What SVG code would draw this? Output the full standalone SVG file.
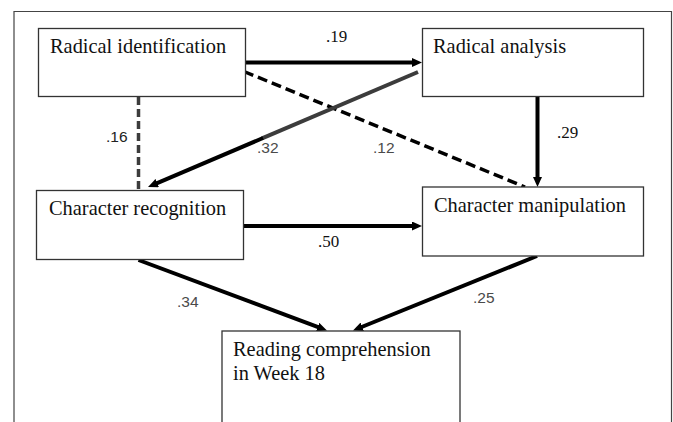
<svg xmlns="http://www.w3.org/2000/svg" width="673" height="422" viewBox="0 0 673 422">
  <style>
    .box { fill: #ffffff; stroke: #333333; stroke-width: 1.3; }
    .t { font-family: "Liberation Serif", "Times New Roman", serif; font-size: 20.4px; fill: #111111; }
    .ls { font-family: "Liberation Serif", "Times New Roman", serif; font-size: 17px; fill: #111111; }
    .lg { font-family: "Liberation Sans", Arial, sans-serif; font-size: 15.5px; fill: #4a4a4a; }
    .edge { fill: none; stroke: #000000; stroke-width: 4; }
    .gray { stroke: #3c3c3c; }
    .dash1 { stroke-dasharray: 8 4; stroke-width: 3.5; stroke: #3c3c3c; }
    .dash2 { stroke-dasharray: 10 5; stroke-width: 3.5; }
  </style>
  <defs>
    <marker id="ah" markerUnits="userSpaceOnUse" markerWidth="10" markerHeight="9" refX="2" refY="4.5" orient="auto">
      <path d="M0,0 L10,4.5 L0,9 z" fill="#000000"/>
    </marker>
  </defs>
  <path d="M14,422 V11.5 H671.5 V422" fill="none" stroke="#444444" stroke-width="1.2"/>

  <g id="edges">
    <line class="edge" x1="246" y1="62.5" x2="414" y2="62.5" marker-end="url(#ah)"/>
    <line class="edge dash1" x1="138.5" y1="97" x2="138.5" y2="190"/>
    <line class="edge dash2" x1="244" y1="71.5" x2="525" y2="187"/>
    <line class="edge gray" x1="418" y1="72" x2="262" y2="138.4"/>
    <line class="edge" x1="263" y1="138" x2="155.4" y2="183.9" marker-end="url(#ah)"/>
    <line class="edge" x1="537.5" y1="97" x2="537.5" y2="179" marker-end="url(#ah)"/>
    <line class="edge" x1="244" y1="226" x2="414" y2="226" marker-end="url(#ah)"/>
    <line class="edge" x1="138.5" y1="260" x2="319.5" y2="327.7" marker-end="url(#ah)"/>
    <line class="edge" x1="537" y1="256" x2="360.4" y2="327.5" marker-end="url(#ah)"/>
  </g>

  <g id="labels">
    <text class="ls" x="326" y="42">.19</text>
    <text class="lg" x="106" y="142" style="fill:#222222">.16</text>
    <text class="lg" x="257" y="153">.32</text>
    <text class="lg" x="373" y="153">.12</text>
    <text class="ls" x="557" y="138">.29</text>
    <text class="ls" x="318" y="247">.50</text>
    <text class="lg" x="177" y="307">.34</text>
    <text class="lg" x="473" y="303">.25</text>
  </g>

  <g id="radical-identification">
    <rect class="box" x="38.5" y="28.5" width="207" height="68"/>
    <text class="t" x="50" y="53">Radical identification</text>
  </g>
  <g id="radical-analysis">
    <rect class="box" x="422.5" y="28.5" width="221" height="68"/>
    <text class="t" x="433" y="53">Radical analysis</text>
  </g>
  <g id="character-recognition">
    <rect class="box" x="36.5" y="190.5" width="207" height="69"/>
    <text class="t" x="49" y="215">Character recognition</text>
  </g>
  <g id="character-manipulation">
    <rect class="box" x="422.5" y="187" width="221" height="69"/>
    <text class="t" x="434" y="212">Character manipulation</text>
  </g>
  <g id="reading-comprehension">
    <rect class="box" x="222" y="331" width="238" height="100"/>
    <text class="t" x="233" y="356">Reading comprehension</text>
    <text class="t" x="233" y="380">in Week 18</text>
  </g>
</svg>
